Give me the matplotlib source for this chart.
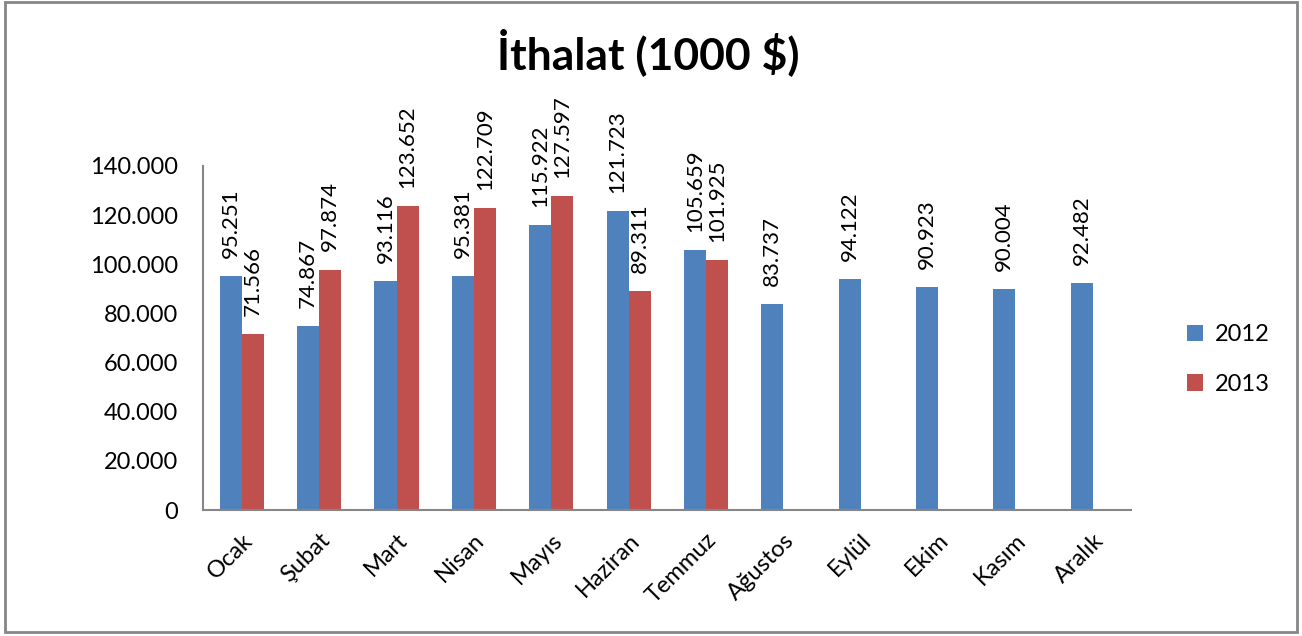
import numpy as np
from matplotlib import pyplot as plt
from matplotlib.patches import Rectangle
from matplotlib.ticker import FuncFormatter

months = ['Ocak', 'Şubat', 'Mart', 'Nisan', 'Mayıs', 'Haziran', 'Temmuz',
          'Ağustos', 'Eylül', 'Ekim', 'Kasım', 'Aralık']
imports_2012 = [95251, 74867, 93116, 95381, 115922, 121723, 105659,
                83737, 94122, 90923, 90004, 92482]
imports_2013 = [71566, 97874, 123652, 122709, 127597, 89311, 101925]

BLUE = '#4F81BD'
RED = '#C0504D'
AXIS_GRAY = '#868686'

plt.rcParams['font.family'] = ['Lato', 'DejaVu Sans']


def tr_thousands(v, pos=None):
    return f"{int(round(v)):,}".replace(',', '.')


fig = plt.figure(figsize=(13.02, 6.36), dpi=100)
ax = fig.add_axes([0.156, 0.198, 0.713, 0.541])

x = np.arange(len(months))
w = 0.285
b12 = ax.bar(x - w / 2, imports_2012, width=w, color=BLUE, label='2012')
b13 = ax.bar(x[:len(imports_2013)] + w / 2, imports_2013, width=w, color=RED, label='2013')

# labels sit a bit above each bar, rotated like in the spreadsheet
for bars in (b12, b13):
    for rect in bars:
        h = rect.get_height()
        ax.annotate(tr_thousands(h), (rect.get_x() + rect.get_width() / 2, h),
                    xytext=(0, 13), textcoords='offset points', rotation=90,
                    ha='center', va='bottom', fontsize=16)

ax.set_xlim(-0.5, len(months) - 0.5)
ax.set_ylim(0, 140000)
ax.set_yticks(np.arange(0, 140001, 20000))
ax.yaxis.set_major_formatter(FuncFormatter(tr_thousands))
ax.set_xticks(x)
ax.set_xticklabels(months, rotation=45, ha='right', rotation_mode='anchor')
ax.tick_params(axis='y', labelsize=17, length=0, pad=18)
ax.tick_params(axis='x', labelsize=17, length=0, pad=14)

for side in ('top', 'right'):
    ax.spines[side].set_visible(False)
for side in ('left', 'bottom'):
    ax.spines[side].set_color(AXIS_GRAY)
    ax.spines[side].set_linewidth(1.5)

leg = fig.legend(handles=[b12, b13], loc='center left', bbox_to_anchor=(0.895, 0.435),
                 frameon=False, fontsize=17, handlelength=0.7, handleheight=0.7,
                 labelspacing=1.2, handletextpad=0.5)

fig.text(0.498, 0.918, 'İthalat (1000 $)', ha='center', va='center',
         fontsize=32, fontweight='bold')

fig.patches.append(Rectangle((0.004, 0.007), 0.992, 0.99, transform=fig.transFigure,
                             fill=False, edgecolor=AXIS_GRAY, linewidth=2))

fig.savefig('out.png', dpi=100)
